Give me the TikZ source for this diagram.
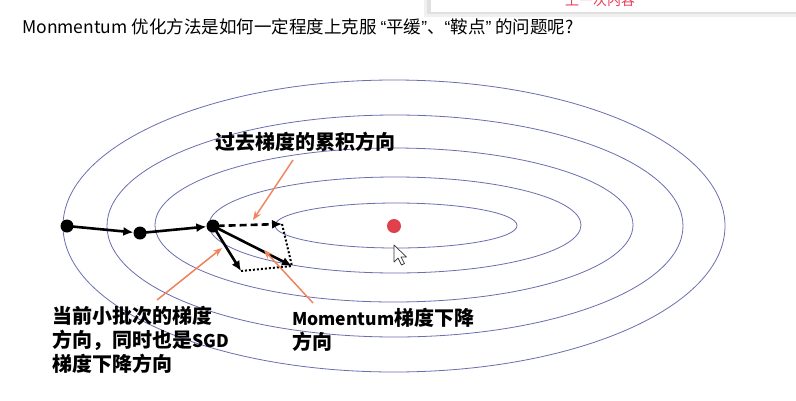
\documentclass[tikz,border=0pt]{standalone}
\usepackage{fontspec}
\setmainfont{Noto Sans CJK SC}
\newfontfamily\latinq{Liberation Sans}
\usetikzlibrary{arrows.meta, positioning}
\definecolor{contourBlue}{HTML}{6A6EB0}
\definecolor{noteOrange}{HTML}{F0845E}
\definecolor{minRed}{HTML}{E0404C}
\definecolor{popupRed}{HTML}{E8405A}
\tikzset{
    contour/.style={draw=contourBlue, line width=0.8pt},
    dot/.style={circle, fill=black, inner sep=0pt, minimum size=13pt},
    mindot/.style={circle, fill=minRed, inner sep=0pt, minimum size=14pt},
    steparrow/.style={-{Latex[length=10pt,width=9pt]}, line width=2.6pt, shorten <=-2pt},
    pastarrow/.style={steparrow, dash pattern=on 7pt off 4pt},
    helper/.style={line width=2pt, dash pattern=on 2pt off 2pt},
    notearrow/.style={-{Stealth[length=9pt,width=7pt]}, line width=1.5pt, draw=noteOrange},
    note/.style={font=\bfseries\fontsize{20}{24}\selectfont, align=left, inner sep=0pt, anchor=west},
}
\newcommand{\latinword}[1]{{\fontsize{17.5}{24}\selectfont #1}}

\begin{document}
\begin{tikzpicture}[x=1pt, y=-1pt]
    \useasboundingbox[fill=white] (0,0) rectangle (796,400);

    % Popup
    \fill[black!6] (424,-5) rectangle (796,17);
    \fill[black!12] (427,-5) rectangle (796,14);
    \fill[white] (431,-5) rectangle (796,12);
    \node[text=popupRed, font=\fontsize{14}{16}\selectfont] (popup) at (600,0) {上一次内容};

    % Title
    \node[anchor=west, inner sep=0pt, font=\fontsize{17.5}{22}\selectfont] (title) at (22,27) {Monmentum 优化方法是如何一定程度上克服 {\latinq “}平缓{\latinq ”}、{\latinq “}鞍点{\latinq ”} 的问题呢?};

    % Contours
    \draw[contour] (394,226) ellipse [x radius=331pt, y radius=146pt];
    \draw[contour] (395,226) ellipse [x radius=288pt, y radius=111pt];
    \draw[contour] (394,225) ellipse [x radius=239pt, y radius=77pt];
    \draw[contour] (395,225) ellipse [x radius=186pt, y radius=48pt];
    \draw[contour] (396,225.5) ellipse [x radius=121pt, y radius=22.5pt];

    % Nodes
    \node[mindot] (minimum) at (394,226) {};
    \node[dot] (p1) at (67,226) {};
    \node[dot] (p2) at (140,233) {};
    \node[dot] (p3) at (213,226) {};
    \coordinate (past) at (282,224);
    \coordinate (grad) at (241,271);
    \coordinate (mom) at (292,266);

    \node[note] (lblpast) at (215,142) {过去梯度的累积方向};
    \node[note] (lblsgd) at (52,340) {当前小批次的梯度\\方向，同时也是\latinword{SGD}\\梯度下降方向};
    \node[note] (lblmom) at (292,330) {\latinword{Momentum}梯度下降\\方向};

    % Edges
    \draw[steparrow] (p1) -- (p2);
    \draw[steparrow] (p2) -- (p3);
    \draw[helper] (past) -- (mom);
    \draw[helper] (grad) -- (mom);
    \draw[pastarrow] (p3) -- (past);
    \draw[steparrow] (p3) -- (grad);
    \draw[steparrow] (p3) -- (mom);

    \coordinate (pastFrom) at (293,160);
    \coordinate (pastTo) at (253,220);
    \coordinate (sgdFrom) at (157,300);
    \coordinate (sgdTo) at (222,248);
    \coordinate (momFrom) at (313,303);
    \coordinate (momTo) at (264,250);
    \draw[notearrow] (pastFrom) -- (pastTo);
    \draw[notearrow] (sgdFrom) -- (sgdTo);
    \draw[notearrow] (momFrom) -- (momTo);

    % Cursor
    \draw[fill=white, draw=black!80, line width=0.7pt, line join=round] (394,245) -- ++(0,17) -- ++(4,-4) -- ++(3.5,7) -- ++(3,-1.5) -- ++(-3.5,-6.5) -- ++(5.5,0) -- cycle;
\end{tikzpicture}
\end{document}
